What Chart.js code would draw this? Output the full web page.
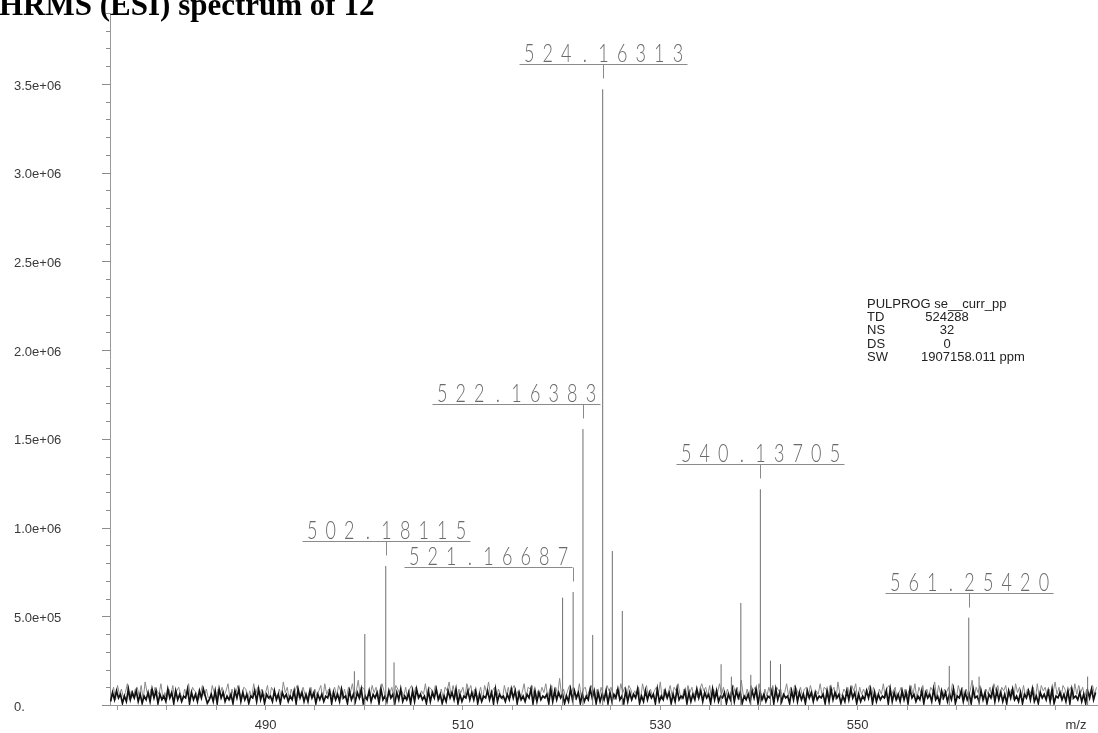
<!DOCTYPE html>
<html>
<head>
<meta charset="utf-8">
<title>HRMS (ESI) spectrum of 12</title>
<script src="https://cdn.jsdelivr.net/npm/chart.js@4.4.1/dist/chart.umd.min.js"></script>
<style>
  html, body { margin: 0; padding: 0; background: #fff; overflow: hidden; }
  #wrap { position: relative; width: 1098px; height: 733px; }
</style>
</head>
<body>
<div id="wrap"><canvas id="spectrum" width="1098" height="733"></canvas></div>
<script>
// values
const titleText = 'HRMS (ESI) spectrum of 12';
const peakMz = [499.0, 500.06, 502.18115, 503.02, 520.1, 521.16687, 522.16383, 523.15, 524.16313, 525.14, 526.15,
  536.16, 537.2, 538.16, 539.17, 540.13705, 541.16, 542.18, 559.28, 561.2542, 562.3, 573.3];
const peakIntensity = [1.9e5, 4.0e5, 7.83e5, 2.4e5, 6.05e5, 6.37e5, 1.555e6, 3.95e5, 3.47e6, 8.68e5, 5.3e5,
  2.3e5, 1.6e5, 5.75e5, 1.7e5, 1.216e6, 2.5e5, 2.3e5, 2.2e5, 4.92e5, 1.6e5, 1.6e5];
const labelledMz = [502.18115, 521.16687, 522.16383, 524.16313, 540.13705, 561.2542];

// baseline noise, one char per 0.2 m/z, height in units of 1e4 (base 36 digits)
const noiseStep = 0.2;
const darkNoiseStart = 474.3;
const darkNoiseRows = [
  '2738461529374826153729481635294718362549173628495 1',
  '36281947253618492736154829371645283617462538194726',
  '28471636254817362945183627491538264719352846173925',
  '37182946351827493615284739162548373816254837192645',
  '26394817352649182735461928374615293847162539481726',
  '38172649351827364915283746192538471629354817263948',
  '27461938254716392847153628491736254819372645183927',
  '36184727354618293746152839471625384917263548192736',
  '28371946253817462935184726391548273619452837164928',
  '37261849352716483925174638291547362819453726184937'
];
const greyNoiseStart = 474.4;
const greyNoiseRows = [
  '5a3b6947c3849a5b3d7495a86c47395b48a6395c4a8736b594',
  '4b7396a58c3947b65a9384c6a5947b3a86594d7a3958b47a63',
  '7a4958b3c6947a5b8394a7c58e4a9365b7a49c8357a4b9685a',
  '39b5a7486c4a95b7394a8d5b6397a4c8b5946a3b7d58a4963b',
  '6a49b5837c4a9b6385a7c49b3a6f5948b7a36c49a58b7394a6',
  '4b8a6395c7a4b9586a3c7b4958a6d3947b5a8c6394b7a5849c',
  '8a5b3947c6a4958b7a3e6495b8a4c7395a6b4a8937c5a4b96a',
  '59a4b7386c5a94b8a3d6597a4b8c3a6958b4a7396c4ab58a37',
  'a4958b6c3a7b495a8d4b6397a5c84b6a3958e4a7b5396a4c8b',
  '5a8b4693c7a4b5986a3c4b8a5937d6a4b958a3c6b7a4958b6a'
];

const xTickLabels = [490, 510, 530, 550];
const yTickLabels = ['0.', '5.0e+05', '1.0e+06', '1.5e+06', '2.0e+06', '2.5e+06', '3.0e+06', '3.5e+06'];
const paramNames = ['TD', 'NS', 'DS', 'SW'];
const paramValues = ['524288', '32', '0', '1907158.011 ppm'];
const pulprog = 'PULPROG se__curr_pp';

function noiseSeries(rows, start) {
  const levels = rows.join('').replace(/ /g, '').split('').map(c => parseInt(c, 36) * 1e4);
  return levels.map((v, i) => ({ x: start + i * noiseStep, y: v }));
}

const stickData = [];
peakMz.forEach((m, i) => {
  stickData.push({ x: m, y: 0 }, { x: m, y: peakIntensity[i] }, { x: m, y: null });
});

const sans = '"Liberation Sans", Arial, Helvetica, sans-serif';

const annotate = {
  id: 'annotate',
  afterDraw(chart, args, opts) {
    const ctx = chart.ctx;
    const xs = chart.scales.x, ys = chart.scales.y;
    ctx.save();

    // y tick marks, long on labelled ones
    ctx.strokeStyle = '#8c8c8c';
    ctx.lineWidth = 1;
    ys.ticks.forEach(t => {
      const py = Math.round(ys.getPixelForValue(t.value)) + 0.5;
      const len = Math.round(t.value) % 500000 === 0 ? 8 : 4;
      ctx.beginPath();
      ctx.moveTo(ys.right - len, py);
      ctx.lineTo(ys.right, py);
      ctx.stroke();
    });

    // peak labels with leader lines
    labelledMz.forEach(m => {
      const i = peakMz.indexOf(m);
      const px = Math.round(xs.getPixelForValue(m)) + 0.5;
      const top = ys.getPixelForValue(peakIntensity[i]);
      const lineY = Math.round(top - 25) + 0.5;
      const cx = px + (opts.shift[m] || 0);
      ctx.strokeStyle = '#8a8a8a';
      ctx.beginPath();
      ctx.moveTo(cx - 84, lineY);
      ctx.lineTo(cx + 84, lineY);
      ctx.moveTo(px, lineY);
      ctx.lineTo(px, lineY + 14);
      ctx.stroke();

      const s = m.toFixed(5);
      ctx.fillStyle = '#6a6a6a';
      ctx.font = '300 25px Lato, "DejaVu Sans", sans-serif';
      ctx.textAlign = 'center';
      ctx.textBaseline = 'alphabetic';
      for (let k = 0; k < s.length; k++) {
        const chx = cx + (k - (s.length - 1) / 2) * 18.6;
        ctx.save();
        ctx.translate(chx, lineY - 3);
        ctx.scale(0.72, 1);
        ctx.fillText(s[k], 0, 0);
        ctx.restore();
      }
    });

    // title, cut by the top edge as in the scan
    ctx.fillStyle = '#000';
    ctx.font = 'bold 31px "Liberation Serif", "Times New Roman", serif';
    ctx.textAlign = 'left';
    ctx.textBaseline = 'alphabetic';
    ctx.fillText(titleText, -1, 15);

    // axis unit
    ctx.fillStyle = '#333';
    ctx.font = '13px ' + sans;
    ctx.textAlign = 'center';
    ctx.textBaseline = 'middle';
    ctx.fillText('m/z', 1076, 725);

    // acquisition parameters
    ctx.fillStyle = '#222';
    ctx.textAlign = 'left';
    ctx.textBaseline = 'alphabetic';
    ctx.fillText(pulprog, 867, 307.5);
    paramNames.forEach((n, k) => {
      const by = 307.5 + (k + 1) * 13.4;
      ctx.textAlign = 'left';
      ctx.fillText(n, 867, by);
      if (n === 'SW') {
        ctx.fillText(paramValues[k], 921, by);
      } else {
        ctx.textAlign = 'center';
        ctx.fillText(paramValues[k], 947, by);
      }
    });

    ctx.restore();
  }
};

new Chart(document.getElementById('spectrum'), {
  type: 'line',
  data: {
    datasets: [
      {
        label: 'peaks',
        data: stickData,
        borderColor: '#6e6e6e',
        borderWidth: 1,
        pointRadius: 0,
        spanGaps: false,
        tension: 0
      },
      {
        label: 'noise',
        data: noiseSeries(darkNoiseRows, darkNoiseStart),
        borderColor: '#111',
        borderWidth: 1.7,
        pointRadius: 0,
        tension: 0
      },
      {
        label: 'noise (second trace)',
        data: noiseSeries(greyNoiseRows, greyNoiseStart),
        borderColor: '#8a8a8a',
        borderWidth: 1,
        pointRadius: 0,
        tension: 0
      }
    ]
  },
  options: {
    responsive: false,
    animation: false,
    devicePixelRatio: 1,
    layout: { padding: { left: 14, top: 13, right: 0, bottom: 0 } },
    plugins: {
      legend: { display: false },
      tooltip: { enabled: false },
      annotate: { shift: { 521.16687: -85, 522.16383: -67 } }
    },
    scales: {
      x: {
        type: 'linear',
        min: 474.24,
        max: 574.35,
        afterFit: s => { s.height = 28; },
        border: { color: '#999', width: 1 },
        grid: { drawOnChartArea: false, drawTicks: true, tickLength: 5, color: '#999' },
        ticks: {
          stepSize: 5,
          includeBounds: false,
          autoSkip: false,
          maxRotation: 0,
          padding: 8,
          color: '#333',
          font: { family: sans, size: 13 },
          callback: v => xTickLabels.includes(Math.round(v)) ? String(Math.round(v)) : ''
        }
      },
      y: {
        min: 0,
        max: 3.9e6,
        afterFit: s => { s.width = 96; },
        border: { color: '#999', width: 1 },
        grid: { drawOnChartArea: false, drawTicks: false },
        ticks: {
          stepSize: 1e5,
          autoSkip: false,
          crossAlign: 'far',
          labelOffset: 2,
          color: '#3a3a3a',
          font: { family: sans, size: 13 },
          callback: v => {
            const n = Math.round(v);
            return n % 500000 === 0 ? yTickLabels[n / 500000] : '';
          }
        }
      }
    }
  },
  plugins: [annotate]
});
</script>
</body>
</html>
